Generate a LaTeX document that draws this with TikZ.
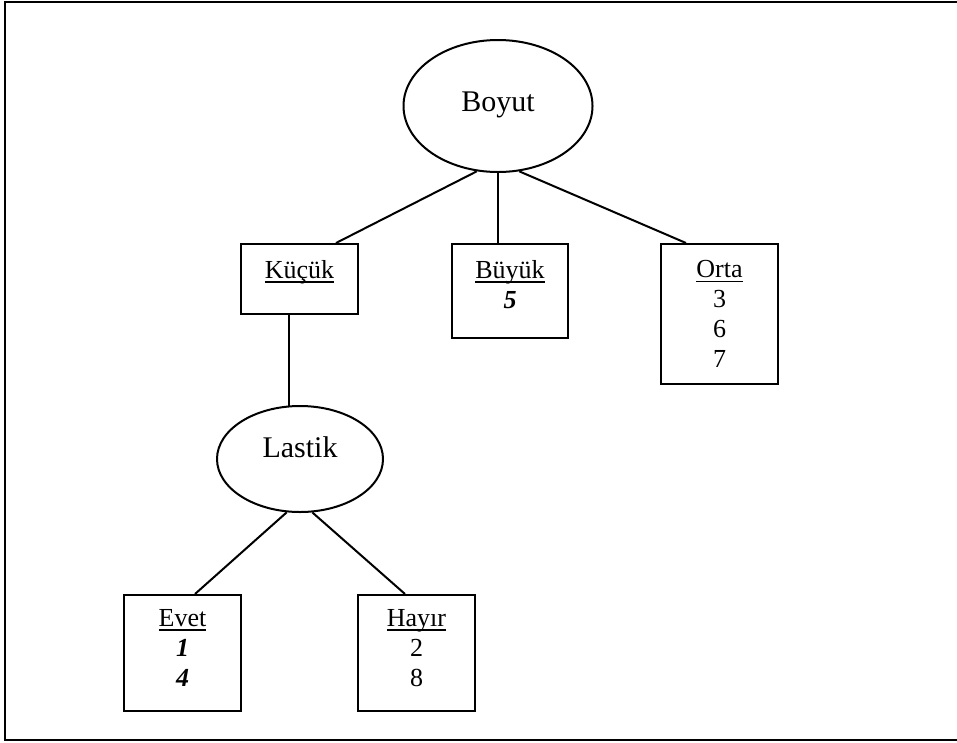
\documentclass[tikz,border=0pt]{standalone}
\usepackage{fontspec}
\setmainfont{Liberation Serif}
\usetikzlibrary{shapes.geometric}

% underline at a fixed depth, through the descenders
\newcommand{\wul}[1]{\setbox0\hbox{#1}\rlap{\rule[-4.5pt]{\wd0}{1.4pt}}\box0}

\begin{document}
\begin{tikzpicture}[x=1pt, y=-1pt,
        oval/.style={draw, ellipse, line width=2pt, inner sep=0pt,
            font=\fontsize{30}{36}\selectfont, text height=20pt},
        leaf/.style={draw, line width=2pt, minimum width=117pt, anchor=north, inner sep=0pt},
        leaftext/.style={anchor=north, inner sep=0pt, align=center,
            font=\fontsize{26}{30}\selectfont},
        link/.style={line width=2pt}]
        \useasboundingbox (0,0) rectangle (957,742);
        \draw [line width=2pt] (5,2) rectangle (965,740);

        % root
        \node (boyut) at (498,106) [oval, minimum width=189pt, minimum height=132pt, text depth=10pt] {Boyut};

        % first level
        \node (kucuk) at (299.5,243) [leaf, minimum height=70pt] {};
        \node (buyuk) at (510,243) [leaf, minimum width=116pt, minimum height=94pt] {};
        \node (orta) at (719.5,243) [leaf, minimum height=140pt] {};
        \node (kucukt) at ([yshift=-17pt]kucuk.north) [leaftext] {\wul{Küçük}};
        \node (buyukt) at ([yshift=-17pt]buyuk.north) [leaftext] {\wul{Büyük}\\\textbf{\textit{5}}};
        \node (ortat) at ([yshift=-17pt]orta.north) [leaftext] {\wul{Orta}\\3\\6\\7};

        \draw [link] (boyut.-108) -- ([xshift=36.5pt]kucuk.north);
        \draw [link] (boyut.south) -- (boyut.south |- buyuk.north);
        \draw [link] (boyut.-72) -- ([xshift=-33.5pt]orta.north);

        % second level under Kucuk
        \node (lastik) at (300,459) [oval, minimum width=166pt, minimum height=106pt, text depth=24pt] {Lastik};
        \draw [link] (lastik.102) -- (lastik.102 |- kucuk.south);

        \node (evet) at (182.5,594) [leaf, minimum height=116pt] {};
        \node (hayir) at (416.5,594) [leaf, minimum height=116pt] {};
        \node (evett) at ([yshift=-15pt]evet.north) [leaftext] {\wul{Evet}\\\textbf{\textit{1}}\\\textbf{\textit{4}}};
        \node (hayirt) at ([yshift=-15pt]hayir.north) [leaftext] {\wul{Hayır}\\2\\8};

        \draw [link] (lastik.-104) -- ([xshift=12.5pt]evet.north);
        \draw [link] (lastik.-77) -- ([xshift=-11.5pt]hayir.north);
    \end{tikzpicture}
\end{document}
